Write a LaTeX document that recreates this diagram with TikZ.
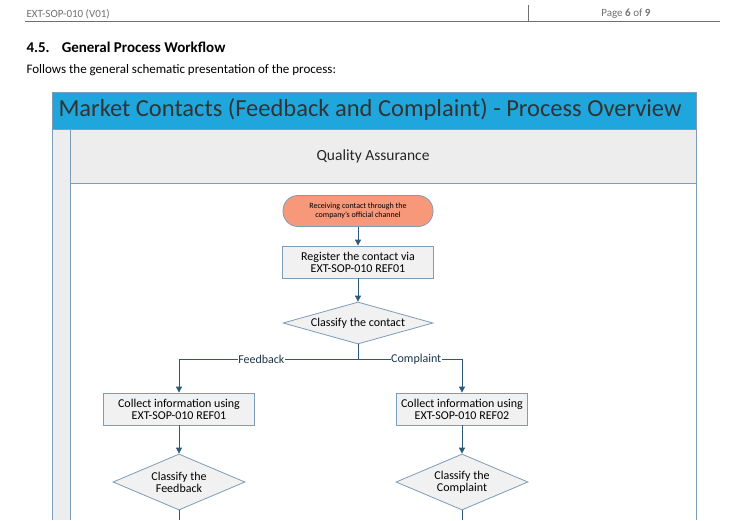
\documentclass[tikz,border=0pt]{standalone}
\usepackage{fontspec}
\setmainfont{Carlito}
\usetikzlibrary{arrows.meta,positioning,shapes.geometric,calc}
\definecolor{barblue}{HTML}{1FA6DC}
\definecolor{lanegray}{HTML}{EDEDED}
\definecolor{boxfill}{HTML}{F1F1F1}
\definecolor{edge}{HTML}{7C9CB8}
\definecolor{flow}{HTML}{2D5979}
\definecolor{startred}{HTML}{F7987B}
\definecolor{hdrgray}{HTML}{707070}
\tikzset{
  task/.style={rectangle, draw=edge, fill=boxfill, thick, minimum width=151pt, minimum height=32pt, align=center, inner sep=1pt, font=\fontsize{12}{12}\selectfont},
  decide/.style={diamond, draw=edge, fill=boxfill, thick, aspect=3.2, inner sep=0pt, align=center, font=\fontsize{12}{12}\selectfont},
  flowline/.style={draw=flow, thick, -{Triangle[length=6pt,width=6pt]}},
  branch/.style={fill=white, inner sep=0.5pt, font=\fontsize{12}{12}\selectfont, text=flow!60!black}
}
\begin{document}
\begin{tikzpicture}[x=1pt, y=-1pt]
\useasboundingbox (0,0) rectangle (744,520);

% page header
\node[anchor=west, text=hdrgray, font=\fontsize{11}{11}\selectfont] (docid) at (23,14) {EXT-SOP-010 (V01)};
\node[anchor=east, text=hdrgray, font=\fontsize{11}{11}\selectfont] (page) at (654,14) {Page \textbf{6} of \textbf{9}};
\draw[hdrgray] (528,5) -- (528,21);
\draw[hdrgray, thick] (25,21) -- (720,21);
\node[anchor=west, font=\bfseries\fontsize{15}{15}\selectfont] (sec) at (23,47) {4.5.\hspace{12pt}General Process Workflow};
\node[anchor=west, font=\fontsize{13}{13}\selectfont] (intro) at (23,70) {Follows the general schematic presentation of the process:};

% pool and lane
\fill[lanegray] (52,129) rectangle (696,520);
\fill[white] (70,183) rectangle (696,520);
\fill[barblue] (52,92) rectangle (696,129);
\draw[edge] (52,520) -- (52,92) -- (696,92) -- (696,520);
\draw[edge] (52,129) -- (696,129);
\draw[edge] (70,129) -- (70,520);
\draw[edge] (70,183) -- (696,183);
\node[anchor=west, text=black!80, font=\fontsize{24.5}{24.5}\selectfont] (title) at (55,110) {Market Contacts (Feedback and Complaint) - Process Overview};
\node[font=\fontsize{15.5}{15.5}\selectfont, text=black!85] (lane) at (373,156) {Quality Assurance};

% flow
\node[rectangle, rounded corners=15pt, draw=edge, fill=startred, thick, minimum width=150pt, minimum height=31pt, align=center, font=\fontsize{8}{9}\selectfont] (start) at (358,211) {Receiving contact through the\\company's official channel};
\node[task] (reg) at (358,262) {Register the contact via\\EXT-SOP-010 REF01};
\node[decide, minimum width=150pt, minimum height=42pt] (cls) at (358,323) {Classify the contact};
\node[task] (colfb) at (179,409) {Collect information using\\EXT-SOP-010 REF01};
\node[task, minimum width=131pt] (colcp) at (462,409) {Collect information using\\EXT-SOP-010 REF02};
\node[decide, minimum width=132pt, minimum height=56pt, aspect=2.3] (clsfb) at (179,482) {Classify the\\Feedback};
\node[decide, minimum width=132pt, minimum height=56pt, aspect=2.3] (clscp) at (462,482) {Classify the\\Complaint};
\coordinate (fork) at (358,359);
\coordinate (fbout) at (179,520);
\coordinate (cpout) at (462,520);

\draw[flowline] (start) -- (reg);
\draw[flowline] (reg) -- (cls);
\draw[flowline] (cls.south) -- (fork) -| node[branch, pos=0.27] {Feedback} (colfb.north);
\draw[flowline] (fork) -| node[branch, pos=0.28] {Complaint} (colcp.north);
\draw[flowline] (colfb) -- (clsfb);
\draw[flowline] (colcp) -- (clscp);
\draw[draw=flow, thick] (clsfb.south) -- (fbout);
\draw[draw=flow, thick] (clscp.south) -- (cpout);
\end{tikzpicture}
\end{document}
